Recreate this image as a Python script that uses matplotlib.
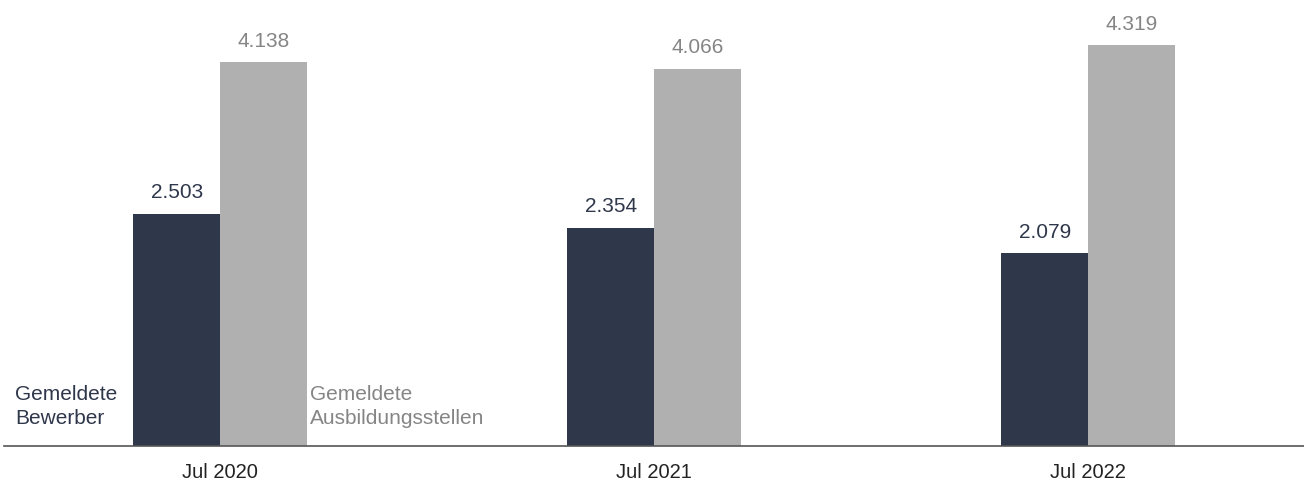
import numpy as np
import matplotlib
matplotlib.use("Agg")
import matplotlib.pyplot as plt

plt.rcParams["font.family"] = ["Liberation Sans", "DejaVu Sans"]

# data
periods = ["Jul 2020", "Jul 2021", "Jul 2022"]
bewerber = [2503, 2354, 2079]
stellen = [4138, 4066, 4319]
bewerber_labels = ["2.503", "2.354", "2.079"]
stellen_labels = ["4.138", "4.066", "4.319"]

DARK = "#2f374b"
GREY = "#b0b0b0"
GREY_TEXT = "#858585"

fig = plt.figure(figsize=(13.04, 4.82), dpi=100)
ax = fig.add_axes([4 / 1304, 36 / 482, 1300 / 1304, 446 / 482])

x = np.arange(len(periods))
width = 0.2

b1 = ax.bar(x - width / 2, bewerber, width, color=DARK, linewidth=0)
b2 = ax.bar(x + width / 2, stellen, width, color=GREY, linewidth=0)

for rect, label in zip(b1, bewerber_labels):
    ax.annotate(label, (rect.get_x() + rect.get_width() / 2, rect.get_height()),
                xytext=(0, 11), textcoords="offset points",
                ha="center", va="baseline", fontsize=15, color=DARK)
for rect, label in zip(b2, stellen_labels):
    ax.annotate(label, (rect.get_x() + rect.get_width() / 2, rect.get_height()),
                xytext=(0, 11), textcoords="offset points",
                ha="center", va="baseline", fontsize=15, color=GREY_TEXT)

# inline legend next to first group
ax.annotate("Gemeldete\nBewerber", (b1[0].get_x(), 0),
            xytext=(-11.5, 28.5), textcoords="offset points",
            ha="right", va="center", multialignment="left",
            fontsize=15, color=DARK, linespacing=1.32)
ax.annotate("Gemeldete\nAusbildungsstellen", (b2[0].get_x() + b2[0].get_width(), 0),
            xytext=(2, 28.5), textcoords="offset points",
            ha="left", va="center", multialignment="left",
            fontsize=15, color=GREY_TEXT, linespacing=1.32)

ax.set_xlim(-0.498, 2.497)
ax.set_ylim(0, 4806)
ax.set_xticks(x)
ax.set_xticklabels(periods, fontsize=14.5, color="#222222")
ax.tick_params(axis="x", length=0, pad=12)
ax.set_yticks([])

for side in ["top", "left", "right"]:
    ax.spines[side].set_visible(False)
ax.spines["bottom"].set_color("#555555")
ax.spines["bottom"].set_linewidth(1.2)

fig.savefig("out.png", dpi=100)
